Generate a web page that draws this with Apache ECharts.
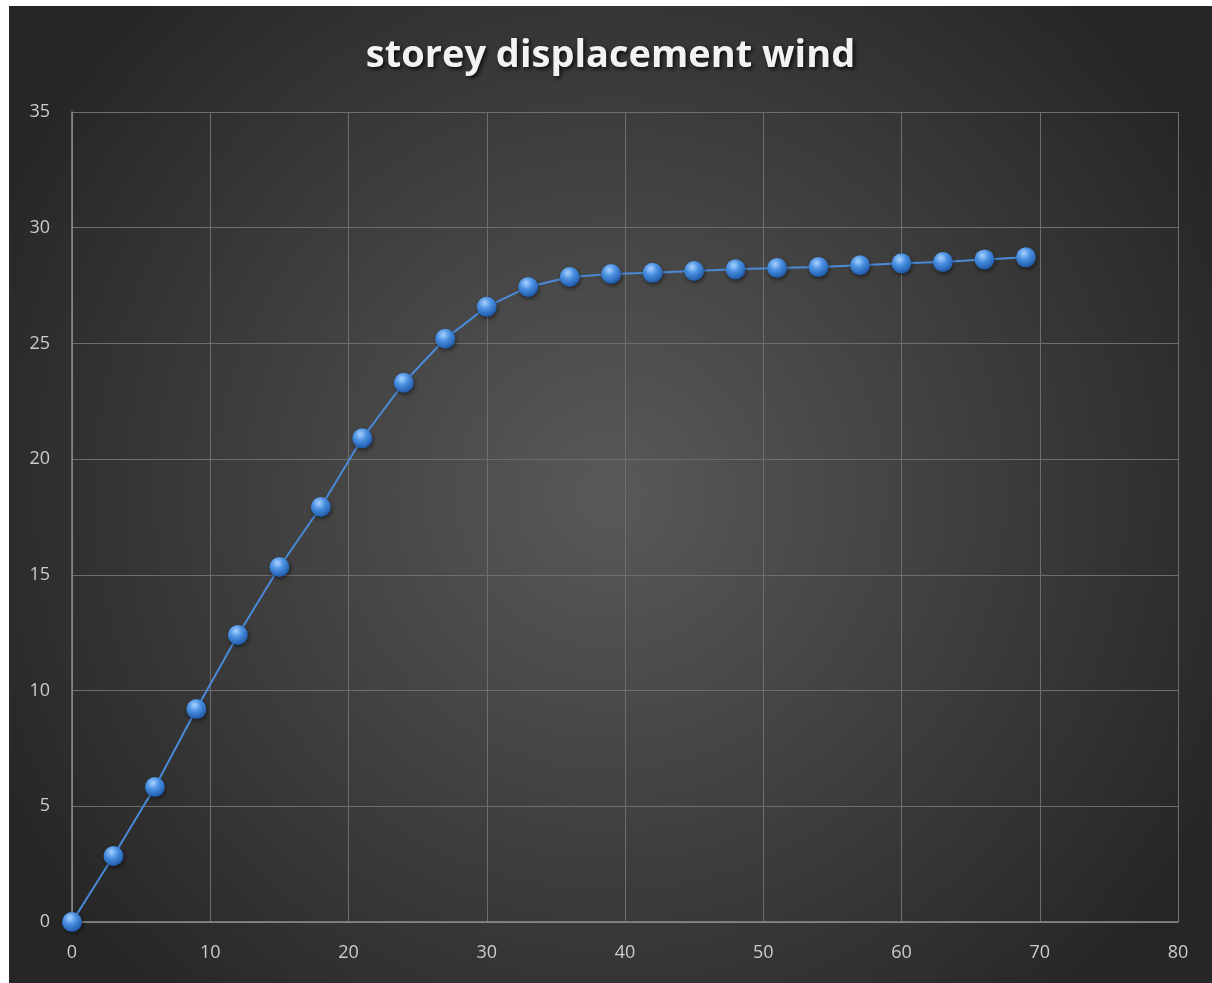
<!DOCTYPE html>
<html>
<head>
<meta charset="utf-8">
<script src="https://cdn.jsdelivr.net/npm/echarts@6/dist/echarts.min.js"></script>
<style>
html,body{margin:0;padding:0;background:#ffffff;width:1212px;height:983px;overflow:hidden;}
#chart{position:absolute;left:9px;top:6px;width:1203px;height:977px;}
</style>
</head>
<body>
<div id="chart"></div>
<script>
const titleText = 'storey displacement wind';
const xValues = [0,3,6,9,12,15,18,21,24,27,30,33,36,39,42,45,48,51,54,57,60,63,66,69];
const yValues = [0,2.85,5.83,9.2,12.4,15.34,17.93,20.9,23.3,25.2,26.58,27.44,27.87,28.0,28.05,28.13,28.2,28.26,28.3,28.38,28.46,28.52,28.63,28.72];
const xMin = 0, xMax = 80, xStep = 10;
const yMin = 0, yMax = 35, yStep = 5;

const points = xValues.map((x, i) => [x, yValues[i]]);

const chart = echarts.init(document.getElementById('chart'));
chart.setOption({
  backgroundColor: {
    type: 'radial', x: 0.5, y: 0.5, r: 0.7,
    colorStops: [
      {offset: 0, color: '#595959'},
      {offset: 1, color: '#262626'}
    ]
  },
  animation: false,
  title: {
    text: titleText,
    left: 'center',
    top: 26,
    textStyle: {
      fontFamily: 'Open Sans',
      fontWeight: 'bold',
      fontSize: 38,
      color: '#f2f2f2',
      textShadowColor: 'rgba(0,0,0,0.8)',
      textShadowBlur: 4,
      textShadowOffsetX: 2,
      textShadowOffsetY: 2
    }
  },
  grid: {left: 63, top: 106, width: 1106, height: 810, containLabel: false},
  xAxis: {
    type: 'value', min: xMin, max: xMax, interval: xStep,
    axisLine: {show: true, lineStyle: {color: '#8c8c8c', width: 1.5}},
    axisTick: {show: false},
    axisLabel: {color: '#cccccc', fontSize: 18, fontFamily: 'Open Sans', margin: 22},
    splitLine: {show: true, lineStyle: {color: '#6e6e6e', width: 1}}
  },
  yAxis: {
    type: 'value', min: yMin, max: yMax, interval: yStep,
    axisLine: {show: true, lineStyle: {color: '#8c8c8c', width: 1.5}},
    axisTick: {show: false},
    axisLabel: {color: '#cccccc', fontSize: 18, fontFamily: 'Open Sans', margin: 22},
    splitLine: {show: true, lineStyle: {color: '#6e6e6e', width: 1}}
  },
  series: [{
    type: 'line',
    data: points,
    symbol: 'circle',
    symbolSize: 20,
    lineStyle: {color: '#4a8ad8', width: 2},
    itemStyle: {
      color: {
        type: 'radial', x: 0.4, y: 0.3, r: 0.7,
        colorStops: [
          {offset: 0, color: '#a8d2ff'},
          {offset: 0.45, color: '#4a90e2'},
          {offset: 1, color: '#1f5aa8'}
        ]
      },
      shadowColor: 'rgba(0,0,0,0.5)',
      shadowBlur: 4,
      shadowOffsetX: 1,
      shadowOffsetY: 2
    }
  }]
});
</script>
</body>
</html>
